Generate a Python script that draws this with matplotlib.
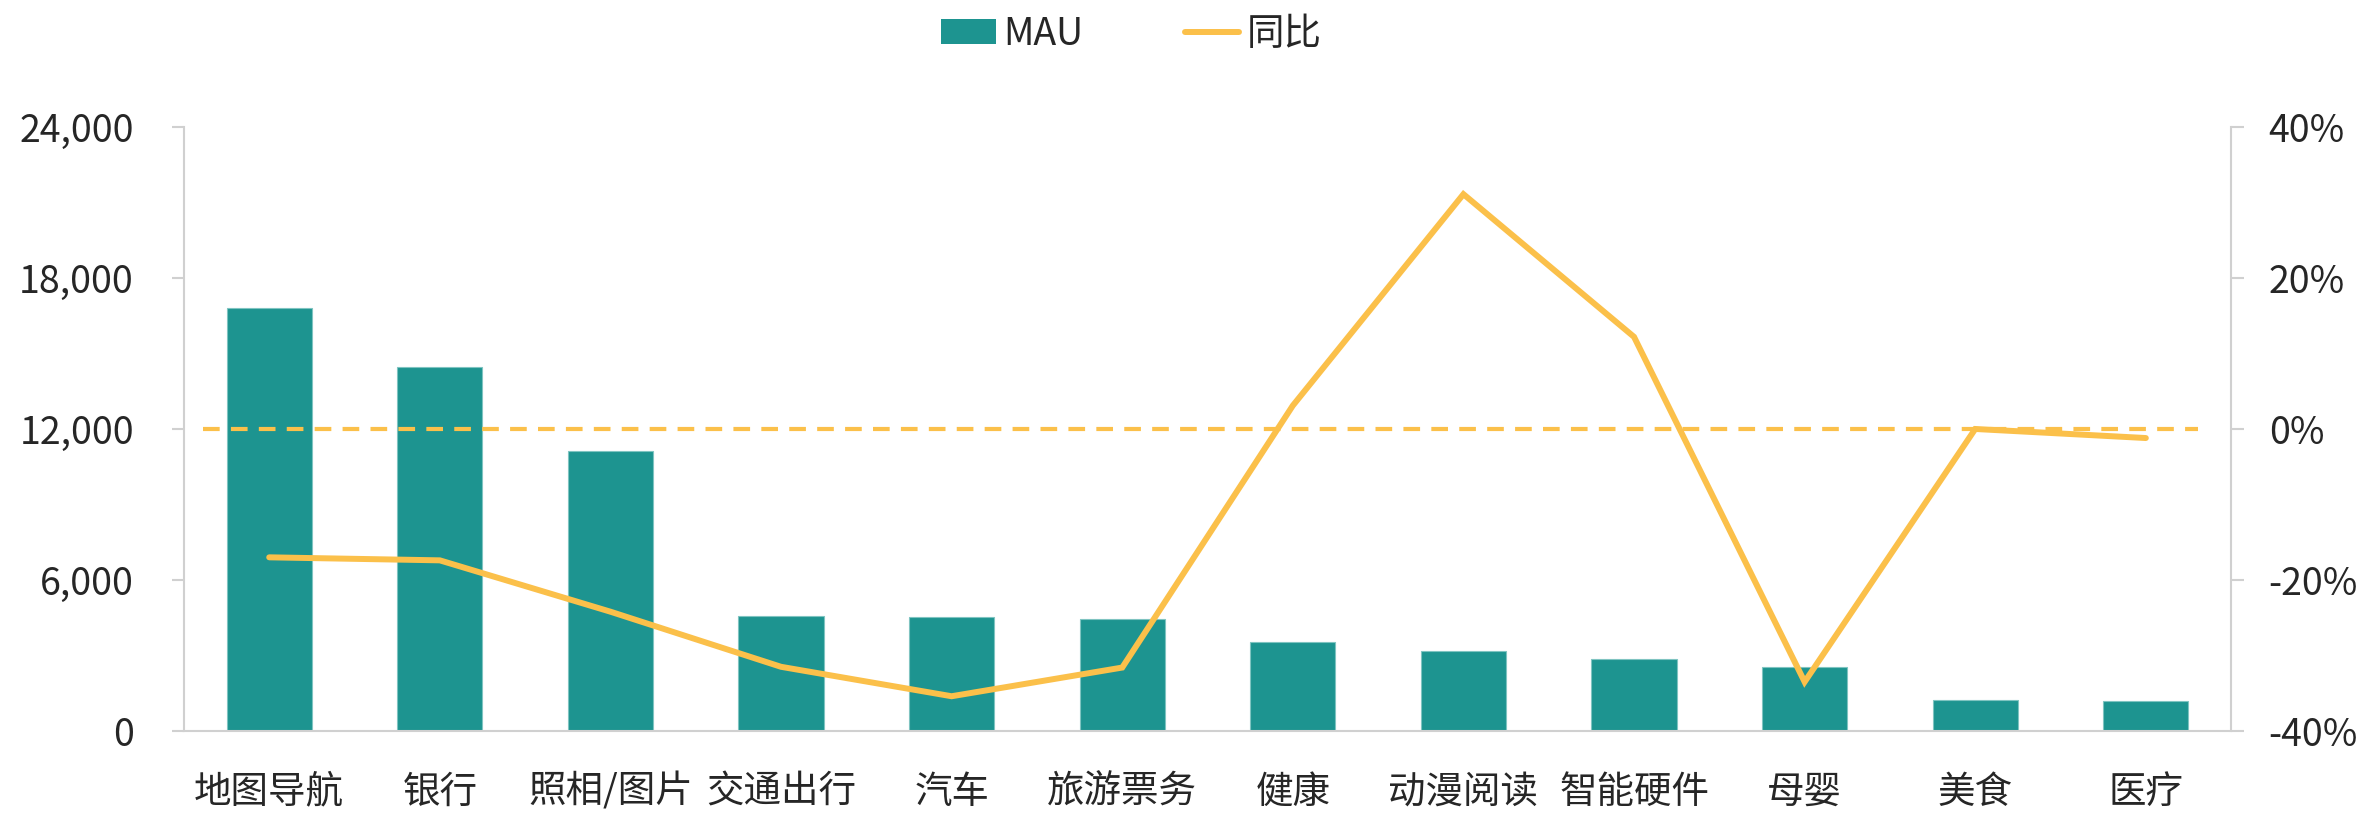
import matplotlib
matplotlib.use("Agg")
import matplotlib.pyplot as plt
from matplotlib.patches import Patch
from matplotlib.lines import Line2D
from matplotlib.ticker import FuncFormatter, MultipleLocator

plt.rcParams['font.family'] = ['Noto Sans CJK SC', 'DejaVu Sans']

categories = ['地图导航', '银行', '照相/图片', '交通出行', '汽车', '旅游票务',
              '健康', '动漫阅读', '智能硬件', '母婴', '美食', '医疗']
mau = [16810, 14480, 11120, 4570, 4510, 4450, 3540, 3170, 2860, 2530, 1230, 1190]
yoy = [-17.0, -17.4, -24.2, -31.5, -35.4, -31.6, 3.1, 31.1, 12.2, -33.5, 0.0, -1.2]

TEAL = '#1D9490'
YELLOW = '#FBC04A'
GRAY = '#D0D0D0'
TEXT = '#262626'
FS = 27

fig = plt.figure(figsize=(23.67, 8.14), dpi=100)
ax = fig.add_axes([0.0777, 0.102, 0.9426 - 0.0777, 0.844 - 0.102])
ax2 = ax.twinx()

x = list(range(len(categories)))
ax.bar(x, mau, width=0.5, color=TEAL, edgecolor='#7FC4C1', linewidth=0.8, zorder=2)
ax.set_xlim(-0.5, len(categories) - 0.5)
ax.set_ylim(0, 24000)
ax.yaxis.set_major_locator(MultipleLocator(6000))
ax.yaxis.set_major_formatter(FuncFormatter(lambda v, p: f'{int(v):,}'))
ax.set_xticks(x)
ax.set_xticklabels(categories)

ax2.axhline(0, xmin=0.0093, xmax=0.984, color=YELLOW, lw=3, dashes=(4, 2.7), zorder=3)
ax2.plot(x, [v / 100 for v in yoy], color=YELLOW, lw=4.3, solid_capstyle='round',
         solid_joinstyle='miter', zorder=4)
ax2.set_ylim(-0.4, 0.4)
ax2.yaxis.set_major_locator(MultipleLocator(0.2))
ax2.yaxis.set_major_formatter(FuncFormatter(lambda v, p: f'{round(v*100):d}%'))

for a in (ax, ax2):
    a.spines['top'].set_visible(False)
    for s in ('left', 'right', 'bottom'):
        a.spines[s].set_color(GRAY)
        a.spines[s].set_linewidth(1.5)
    a.set_facecolor('none')

ax.spines['right'].set_visible(False)
ax2.spines['left'].set_visible(False)
ax2.spines['bottom'].set_visible(False)

ax.tick_params(axis='y', length=9, width=1.5, color=GRAY, pad=27, labelsize=FS, labelcolor=TEXT)
ax.tick_params(axis='x', length=0, pad=30, labelsize=FS, labelcolor=TEXT)
ax2.tick_params(axis='y', length=9, width=1.5, color=GRAY, pad=18, labelsize=FS, labelcolor=TEXT)

handles = [Patch(facecolor=TEAL, edgecolor='none', label='MAU'),
           Line2D([0], [0], color=YELLOW, lw=4.3, solid_capstyle='round', label='同比')]
leg = fig.legend(handles=handles, loc='center', bbox_to_anchor=(0.478, 0.958), ncol=2,
                 frameon=False, fontsize=FS, handlelength=1.45, handleheight=0.65,
                 handletextpad=0.2, columnspacing=2.7)
for t in leg.get_texts():
    t.set_color(TEXT)

fig.savefig('out.png', dpi=100)
